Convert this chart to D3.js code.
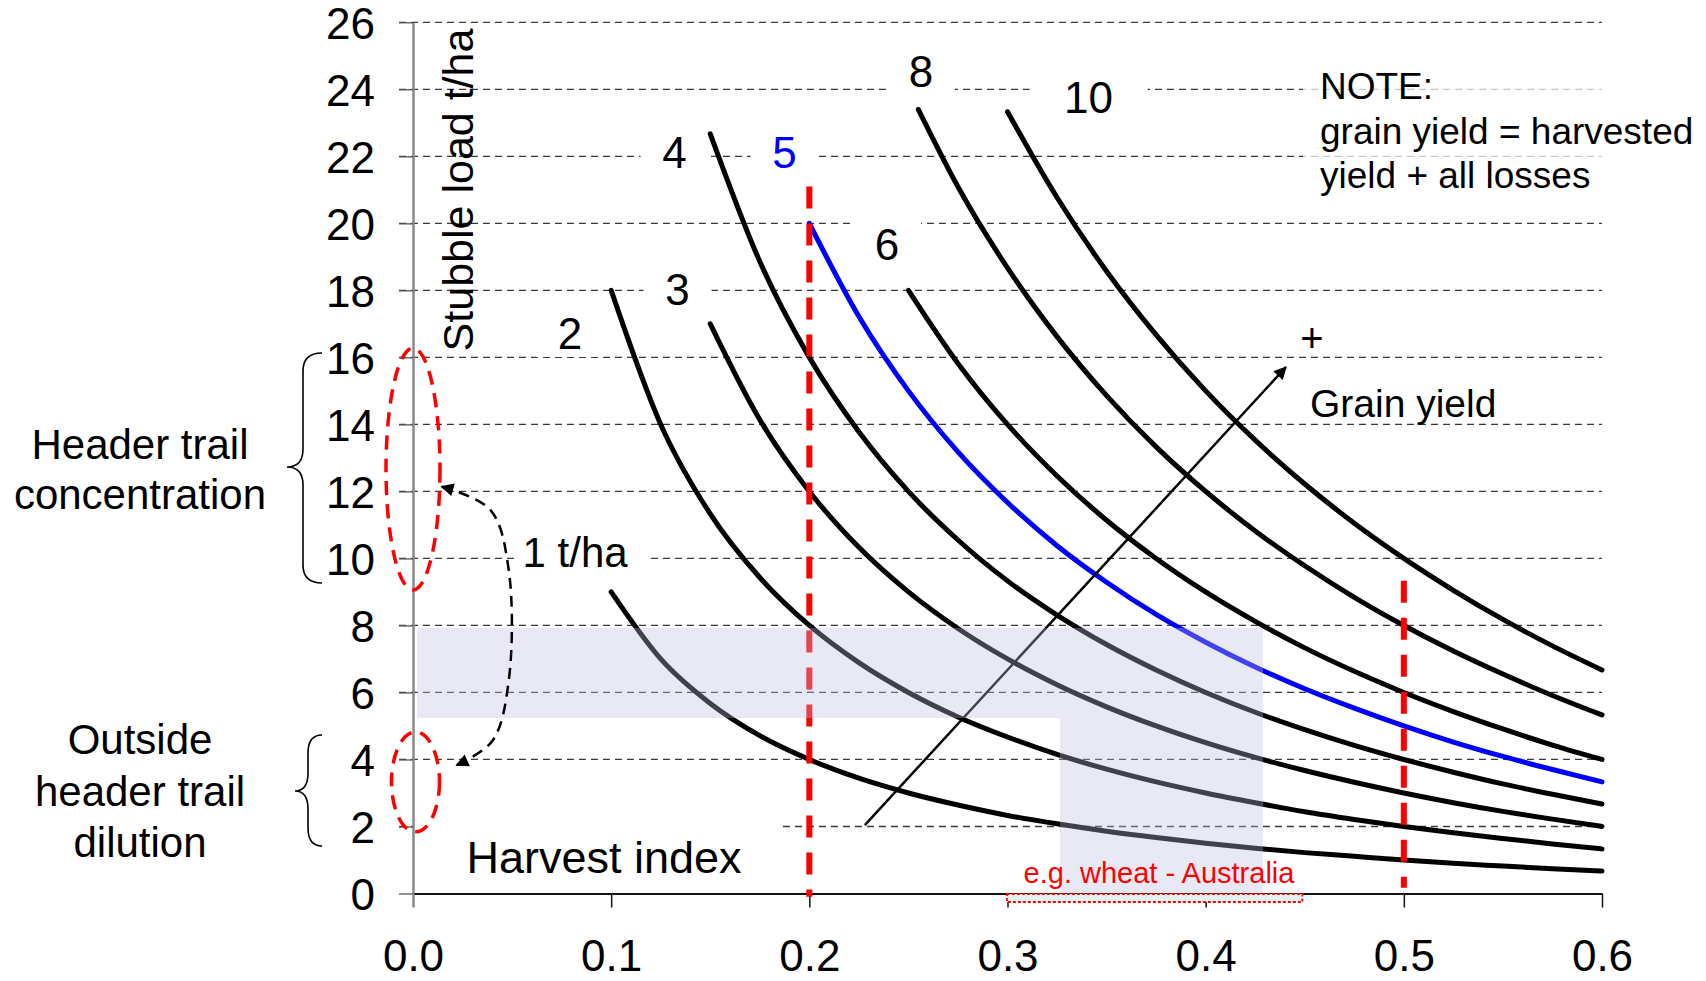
<!DOCTYPE html>
<html>
<head>
<meta charset="utf-8">
<script src="https://cdn.jsdelivr.net/npm/d3@7"></script>
<style>
  body { margin: 0; background: #fff; }
  text { font-family: "Liberation Sans", Arial, sans-serif; }
</style>
</head>
<body>
<div id="chart"></div>
<script>
// Harvest index steps (x) shared by most curves
const harvestIndex = [0.1, 0.125, 0.15, 0.175, 0.2, 0.225, 0.25, 0.275, 0.3, 0.325, 0.35,
    0.375, 0.4, 0.425, 0.45, 0.475, 0.5, 0.525, 0.55, 0.575, 0.6];
// curve 8 starts a bit right of 0.25
const harvestIndex8 = [0.255, 0.275, 0.3, 0.325, 0.35, 0.375, 0.4, 0.425, 0.45, 0.475, 0.5,
    0.525, 0.55, 0.575, 0.6];

// Stubble load t/ha
const stubble1 = [9.0, 7.0, 5.67, 4.71, 4.0, 3.44, 3.0, 2.64, 2.33, 2.08, 1.86, 1.67, 1.5, 1.35, 1.22, 1.11, 1.0, 0.9, 0.82, 0.74, 0.67];
const stubble2 = [18.0, 14.0, 11.33, 9.43, 8.0, 6.89, 6.0, 5.27, 4.67, 4.15, 3.71, 3.33, 3.0, 2.71, 2.44, 2.21, 2.0, 1.81, 1.64, 1.48, 1.33];
const stubble3 = [null, null, 17.0, 14.14, 12.0, 10.33, 9.0, 7.91, 7.0, 6.23, 5.57, 5.0, 4.5, 4.06, 3.67, 3.32, 3.0, 2.71, 2.45, 2.22, 2.0];
const stubble4 = [null, null, 22.67, 18.86, 16.0, 13.78, 12.0, 10.55, 9.33, 8.31, 7.43, 6.67, 6.0, 5.41, 4.89, 4.42, 4.0, 3.62, 3.27, 2.96, 2.67];
const stubble5 = [null, null, null, null, 20.0, 17.22, 15.0, 13.18, 11.67, 10.38, 9.29, 8.33, 7.5, 6.76, 6.11, 5.53, 5.0, 4.52, 4.09, 3.7, 3.33];
const stubble6 = [null, null, null, null, null, null, 18.0, 15.82, 14.0, 12.46, 11.14, 10.0, 9.0, 8.12, 7.33, 6.63, 6.0, 5.43, 4.91, 4.43, 4.0];
const stubble8 = [23.4, 21.09, 18.67, 16.62, 14.86, 13.33, 12.0, 10.82, 9.78, 8.84, 8.0, 7.24, 6.55, 5.91, 5.33];
const stubble10 = [null, null, null, null, null, null, null, null, 23.33, 20.77, 18.57, 16.67, 15.0, 13.53, 12.22, 11.05, 10.0, 9.05, 8.18, 7.39, 6.67];

// Curve labels and where they sit (harvest index, stubble load)
const curveLabels = ["1 t/ha", "2", "3", "4", "5", "6", "8", "10"];
const labelHI = [0.0818, 0.0792, 0.1335, 0.132, 0.1875, 0.2392, 0.2563, 0.3409];
const labelStubble = [9.74, 16.25, 17.56, 21.65, 21.65, 18.9, 24.07, 23.29];

// Axis ticks
const xTicks = [0, 0.1, 0.2, 0.3, 0.4, 0.5, 0.6];
const xTickLabels = ["0.0", "0.1", "0.2", "0.3", "0.4", "0.5", "0.6"];
const yTicks = [0, 2, 4, 6, 8, 10, 12, 14, 16, 18, 20, 22, 24, 26];

// Reference harvest indices (red dashed lines) and their extent
const refHI = [0.2, 0.5];
const refTop = [21.1, 9.33];
const refBottom = [-0.1, 0.17];

const width = 1706, height = 981;
const svg = d3.select("#chart").append("svg")
    .attr("width", width)
    .attr("height", height);
svg.append("rect").attr("width", width).attr("height", height).attr("fill", "#fff");

const x = d3.scaleLinear().domain([0, 0.6]).range([413, 1602]);
const y = d3.scaleLinear().domain([0, 26]).range([893.5, 22.3]);

// markers
const defs = svg.append("defs");
defs.append("marker")
    .attr("id", "head")
    .attr("viewBox", "0 0 10 10")
    .attr("refX", 9).attr("refY", 5)
    .attr("markerUnits", "userSpaceOnUse")
    .attr("markerWidth", 18).attr("markerHeight", 13)
    .attr("orient", "auto-start-reverse")
    .append("path").attr("d", "M0,0 L10,5 L0,10 z").attr("fill", "#000");

// dashed gridlines
svg.append("g").selectAll("line")
    .data(yTicks.filter(d => d > 0))
    .join("line")
    .attr("x1", x(0) - 14).attr("x2", x(0.6))
    .attr("y1", d => y(d)).attr("y2", d => y(d))
    .attr("stroke", "#3a3a3a")
    .attr("stroke-width", 1.3)
    .attr("stroke-dasharray", "7,5");

// white boxes behind labels (they break the gridlines)
const boxes = svg.append("g").attr("fill", "#fff");
curveLabels.forEach((t, i) => {
    const w = t === "1 t/ha" ? 132 : (t.length === 2 ? 118 : 68);
    const cx = x(labelHI[i]) + (t === "1 t/ha" ? 6 : 0);
    boxes.append("rect")
        .attr("x", cx - w / 2).attr("y", y(labelStubble[i]) - 46)
        .attr("width", w).attr("height", 54);
});
boxes.append("rect").attr("x", x(0) + 1).attr("y", 812).attr("width", 364).attr("height", 70);
boxes.append("rect").attr("x", 1303).attr("y", 58).attr("width", 310).attr("height", 142)
    .attr("fill-opacity", 0.72);

// axes
const yAxis = svg.append("g")
    .attr("transform", `translate(${x(0)},0)`)
    .call(d3.axisLeft(y).tickValues(yTicks).tickSizeInner(14).tickSizeOuter(0).tickPadding(24));
yAxis.select(".domain").attr("stroke", "#8a8a8a").attr("stroke-width", 2.5);
yAxis.selectAll(".tick line").attr("stroke", "#555").attr("stroke-width", 1.3);
yAxis.selectAll(".tick text")
    .attr("fill", "#000")
    .attr("dy", "0.36em")
    .style("font-size", "44px")
    .style("font-family", "'Liberation Sans', Arial, sans-serif");

const xAxis = svg.append("g")
    .attr("transform", `translate(0,${y(0)})`)
    .call(d3.axisBottom(x).tickValues(xTicks)
        .tickFormat((d, i) => xTickLabels[i])
        .tickSizeInner(14).tickSizeOuter(0).tickPadding(32));
xAxis.select(".domain").attr("stroke", "#111").attr("stroke-width", 2);
xAxis.selectAll(".tick line").attr("stroke", (d, i) => i === 0 ? "#8a8a8a" : "#111")
    .attr("stroke-width", (d, i) => i === 0 ? 2.5 : 1.5);
xAxis.selectAll(".tick text")
    .attr("fill", "#000")
    .style("font-size", "44px")
    .style("font-family", "'Liberation Sans', Arial, sans-serif");

// grain yield curves
const series = [
    { hi: harvestIndex, s: stubble1, color: "#000" },
    { hi: harvestIndex, s: stubble2, color: "#000" },
    { hi: harvestIndex, s: stubble3, color: "#000" },
    { hi: harvestIndex, s: stubble4, color: "#000" },
    { hi: harvestIndex, s: stubble6, color: "#000" },
    { hi: harvestIndex8, s: stubble8, color: "#000" },
    { hi: harvestIndex, s: stubble10, color: "#000" },
    { hi: harvestIndex, s: stubble5, color: "#0000ff" }
];
const line = d3.line()
    .defined(d => d[1] !== null)
    .curve(d3.curveMonotoneX)
    .x(d => x(d[0]))
    .y(d => y(d[1]));

svg.append("g").selectAll("path")
    .data(series)
    .join("path")
    .attr("d", d => line(d.hi.map((h, i) => [h, d.s[i]])))
    .attr("fill", "none")
    .attr("stroke", d => d.color)
    .attr("stroke-width", 5)
    .attr("stroke-linejoin", "round")
    .attr("stroke-linecap", "round");

// red dashed reference lines
svg.append("g").selectAll("line")
    .data(refHI)
    .join("line")
    .attr("x1", d => x(d)).attr("x2", d => x(d))
    .attr("y1", (d, i) => y(refTop[i])).attr("y2", (d, i) => y(refBottom[i]))
    .attr("stroke", "#ff0000")
    .attr("stroke-width", 6)
    .attr("stroke-dasharray", "22,15");

// grain yield arrow
svg.append("line")
    .attr("x1", x(0.228)).attr("y1", y(2.04))
    .attr("x2", x(0.4405)).attr("y2", y(15.71))
    .attr("stroke", "#000").attr("stroke-width", 2.5)
    .attr("marker-end", "url(#head)");

// shaded "typical" region drawn over the curves
const shade = [[0.002, 7.92], [0.429, 7.92], [0.429, 0], [0.3265, 0], [0.3265, 5.24], [0.002, 5.24]];
svg.append("path")
    .attr("d", d3.line().x(d => x(d[0])).y(d => y(d[1]))(shade) + "Z")
    .attr("fill", "rgb(190,190,230)")
    .attr("fill-opacity", 0.34);

// wheat range box under the axis
svg.append("rect")
    .attr("x", x(0.2997)).attr("y", y(0) + 0.5)
    .attr("width", x(0.4488) - x(0.2997)).attr("height", 8)
    .attr("fill", "#e3f1f1")
    .attr("stroke", "#ff0000").attr("stroke-width", 1.8)
    .attr("stroke-dasharray", "3,2");

// red dashed ellipses on the y axis
svg.append("ellipse")
    .attr("cx", x(0)).attr("cy", y(12.67))
    .attr("rx", 27).attr("ry", y(0) - y(3.61))
    .attr("fill", "none").attr("stroke", "#ff0000")
    .attr("stroke-width", 3.5).attr("stroke-dasharray", "14,9");
svg.append("ellipse")
    .attr("cx", x(0) + 2.5).attr("cy", y(3.33))
    .attr("rx", 24).attr("ry", y(0) - y(1.49))
    .attr("fill", "none").attr("stroke", "#ff0000")
    .attr("stroke-width", 3.5).attr("stroke-dasharray", "14,9");

// dashed double-headed arrow between the ellipses
const loop = [[0.0145, 12.14], [0.039, 11.45], [0.0482, 9.7], [0.0482, 6.3], [0.04, 4.55], [0.022, 3.83]];
svg.append("path")
    .attr("d", d3.line().curve(d3.curveCatmullRom).x(d => x(d[0])).y(d => y(d[1]))(loop))
    .attr("fill", "none")
    .attr("stroke", "#000").attr("stroke-width", 2.5)
    .attr("stroke-dasharray", "11,7")
    .attr("marker-start", "url(#head)")
    .attr("marker-end", "url(#head)");

// curly braces on the left
function brace(xr, xv, xt, yTop, yMid, yBot) {
    const r = 18;
    return `M${xr},${yTop} Q${xv},${yTop} ${xv},${yTop + r} L${xv},${yMid - r} Q${xv},${yMid} ${xt},${yMid}` +
        ` Q${xv},${yMid} ${xv},${yMid + r} L${xv},${yBot - r} Q${xv},${yBot} ${xr},${yBot}`;
}
svg.append("path").attr("d", brace(322, 303, 287, 353, 467, 583))
    .attr("fill", "none").attr("stroke", "#000").attr("stroke-width", 1.6);
svg.append("path").attr("d", brace(322, 308, 295, 735, 791, 846))
    .attr("fill", "none").attr("stroke", "#000").attr("stroke-width", 1.6);

// curve labels
svg.append("g").selectAll("text")
    .data(curveLabels)
    .join("text")
    .attr("x", (d, i) => x(labelHI[i]))
    .attr("y", (d, i) => y(labelStubble[i]))
    .attr("text-anchor", "middle")
    .attr("fill", d => d === "5" ? "#0000ff" : "#000")
    .style("font-size", d => d === "1 t/ha" ? "42px" : "44px")
    .text(d => d);

// other text
svg.append("text")
    .attr("transform", "translate(473,190) rotate(-90)")
    .attr("text-anchor", "middle")
    .style("font-size", "43px")
    .text("Stubble load t/ha");

const note = ["NOTE:", "grain yield = harvested", "yield + all losses"];
svg.append("g").selectAll("text")
    .data(note)
    .join("text")
    .attr("x", 1320)
    .attr("y", (d, i) => 99 + i * 44.5)
    .style("font-size", "37px")
    .text(d => d);

svg.append("text").attr("x", 1312).attr("y", 352).attr("text-anchor", "middle")
    .style("font-size", "40px").text("+");
svg.append("text").attr("x", 1310).attr("y", 417)
    .style("font-size", "39px").text("Grain yield");
svg.append("text").attr("x", 604).attr("y", 873).attr("text-anchor", "middle")
    .style("font-size", "45px").text("Harvest index");
svg.append("text").attr("x", 1159).attr("y", 883).attr("text-anchor", "middle")
    .attr("fill", "#ff0000")
    .style("font-size", "29px").text("e.g. wheat - Australia");

const leftNotes = [
    { t: "Header trail", y: 459 },
    { t: "concentration", y: 509 },
    { t: "Outside", y: 754 },
    { t: "header trail", y: 806 },
    { t: "dilution", y: 857 }
];
svg.append("g").selectAll("text")
    .data(leftNotes)
    .join("text")
    .attr("x", 140)
    .attr("y", d => d.y)
    .attr("text-anchor", "middle")
    .style("font-size", "42px")
    .text(d => d.t);
</script>
</body>
</html>
